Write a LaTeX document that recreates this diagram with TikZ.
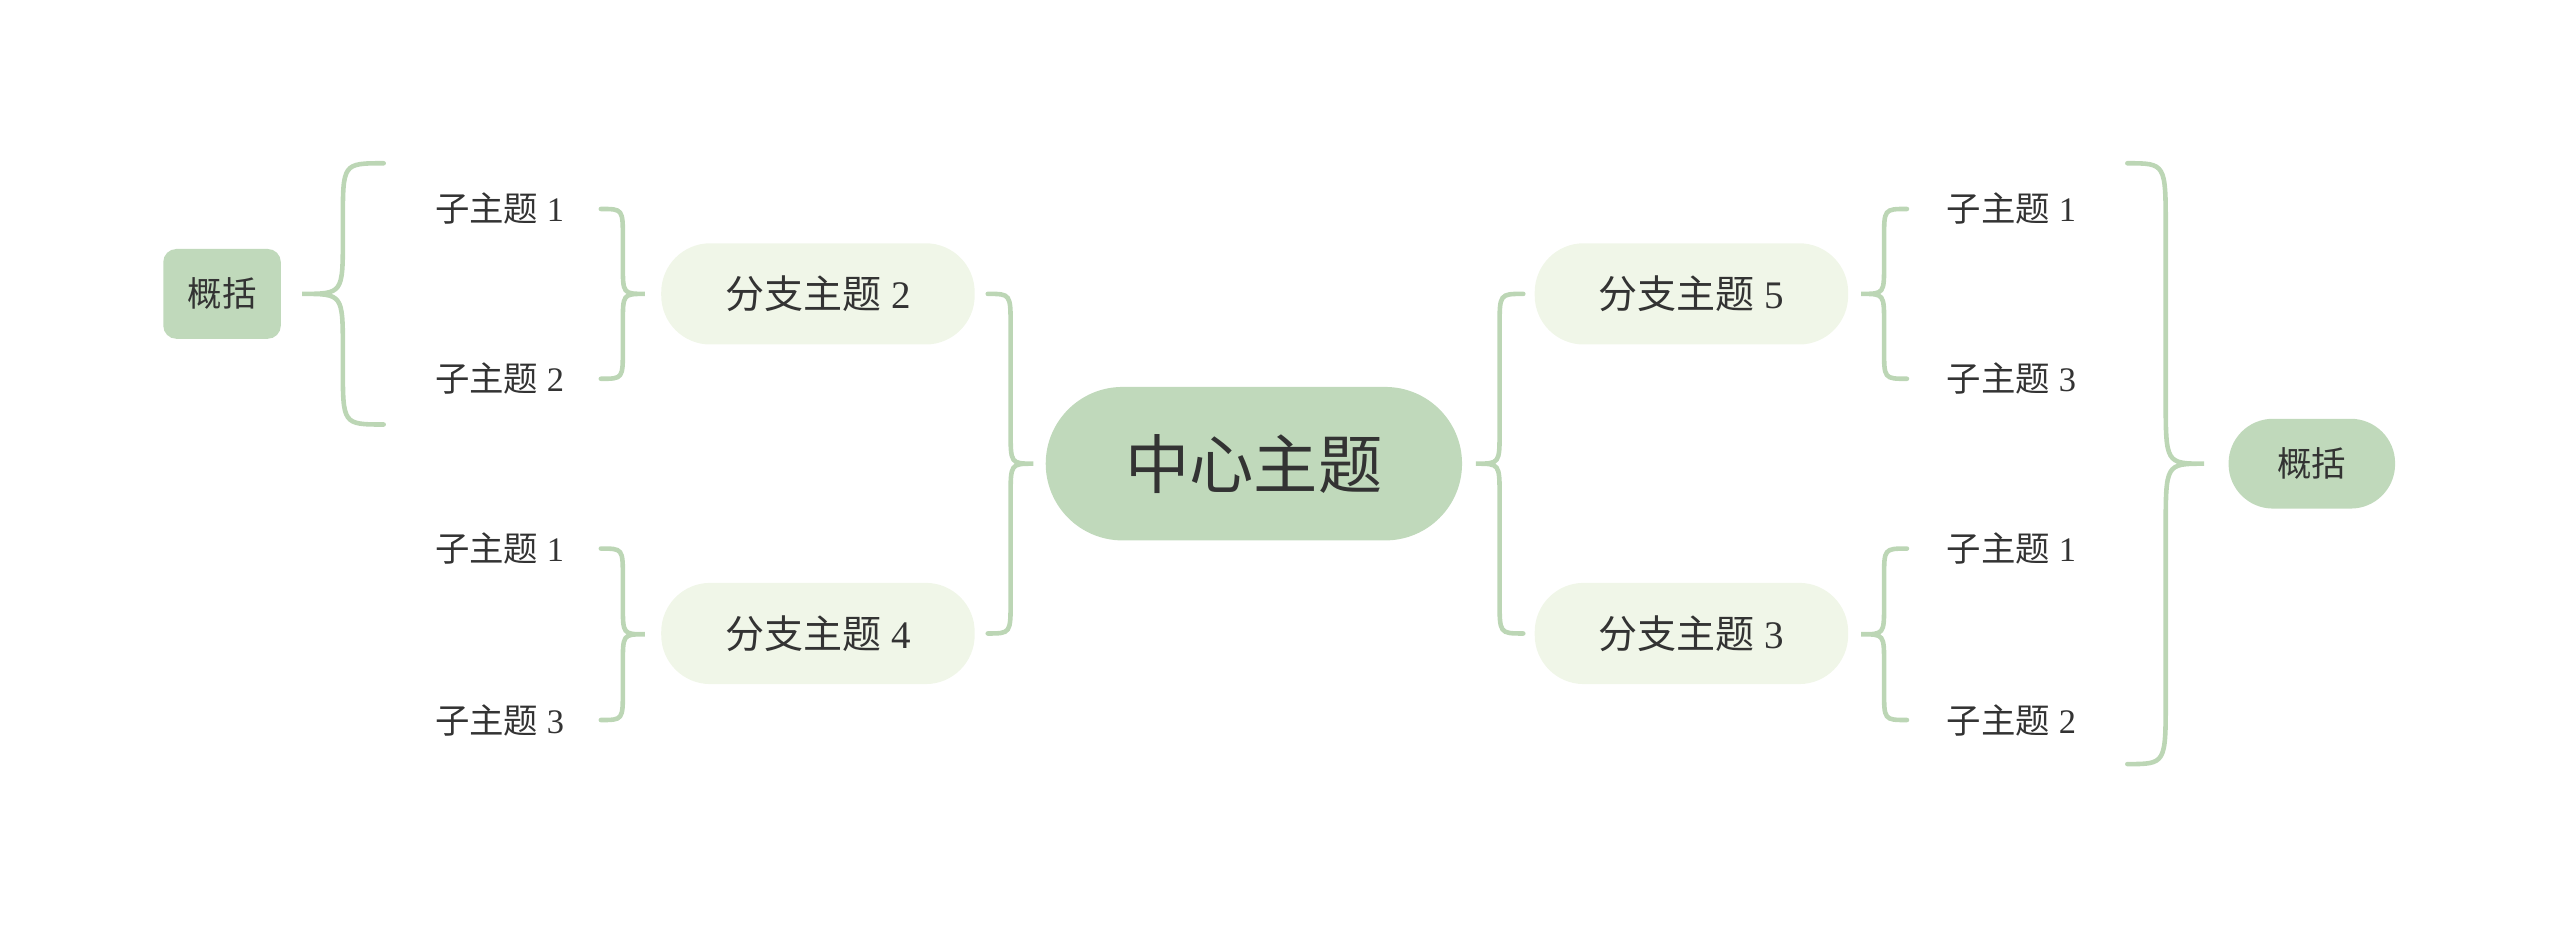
\documentclass[tikz,border=0pt]{standalone}
\usepackage{fontspec}
\setmainfont{Liberation Serif}
\newfontfamily\cjk{Noto Sans CJK SC}
\definecolor{leaf}{HTML}{C0D9BB}
\definecolor{pale}{HTML}{F0F6E8}
\definecolor{brc}{HTML}{BCD6B5}
\definecolor{ink}{HTML}{333333}
\newcommand\mbrace[5]{% end x, tip x, top y, bottom y, radius
  \pgfmathsetmacro\bm{(#1+#2)/2}\pgfmathsetmacro\bc{(#3+#4)/2}
  \draw[bracestyle] (#1,#3) .. controls (\bm,#3) .. (\bm,{#3+#5}) -- (\bm,{\bc-#5})
    .. controls (\bm,\bc) .. (#2,\bc) .. controls (\bm,\bc) .. (\bm,{\bc+#5})
    -- (\bm,{#4-#5}) .. controls (\bm,#4) .. (#1,#4);}
\begin{document}
\begin{tikzpicture}[x=0.25mm,y=-0.25mm,
  centre/.style={fill=leaf, minimum width=255*0.25mm, minimum height=94*0.25mm, font=\fontsize{28}{30}\selectfont, text=ink},
  branch/.style={fill=pale, rounded corners=7.5mm, minimum width=192*0.25mm, minimum height=62*0.25mm, font=\fontsize{17}{20}\selectfont, text=ink},
  sub/.style={font=\fontsize{15}{18}\selectfont, text=ink},
  summary/.style={fill=leaf, font=\fontsize{15}{18}\selectfont, text=ink, minimum height=55*0.25mm},
  bracestyle/.style={draw=brc, line width=2pt, line cap=round}]
  \useasboundingbox (0,0) rectangle (1568,569);
  \node[centre, rounded corners=11.75mm] (c) at (768,284) {\cjk 中心主题};
  \node[branch] (b2) at (501,180) {{\cjk 分支主题} 2};
  \node[branch] (b4) at (501,388) {{\cjk 分支主题} 4};
  \node[branch] (b5) at (1036,180) {{\cjk 分支主题} 5};
  \node[branch] (b3) at (1036,388) {{\cjk 分支主题} 3};
  \node[sub] (l1) at (306,128) {{\cjk 子主题} 1};
  \node[sub] (l2) at (306,232) {{\cjk 子主题} 2};
  \node[sub] (l3) at (306,336) {{\cjk 子主题} 1};
  \node[sub] (l4) at (306,441) {{\cjk 子主题} 3};
  \node[sub] (r1) at (1232,128) {{\cjk 子主题} 1};
  \node[sub] (r2) at (1232,232) {{\cjk 子主题} 3};
  \node[sub] (r3) at (1232,336) {{\cjk 子主题} 1};
  \node[sub] (r4) at (1232,441) {{\cjk 子主题} 2};
  \node[summary, rounded corners=2mm, minimum width=72*0.25mm] (s1) at (136,180) {\cjk 概括};
  \node[summary, rounded corners=6.8mm, minimum width=102*0.25mm] (s2) at (1416,284) {\cjk 概括};
  % braces
  \mbrace{368}{395}{128}{232}{18}
  \mbrace{368}{395}{336}{441}{18}
  \mbrace{605}{633}{180}{388}{20}
  \mbrace{933}{904}{180}{388}{20}
  \mbrace{1168}{1140}{128}{232}{18}
  \mbrace{1168}{1140}{336}{441}{18}
  \mbrace{235}{185}{100}{260}{35}
  \mbrace{1303}{1350}{100}{468}{40}
\end{tikzpicture}
\end{document}
